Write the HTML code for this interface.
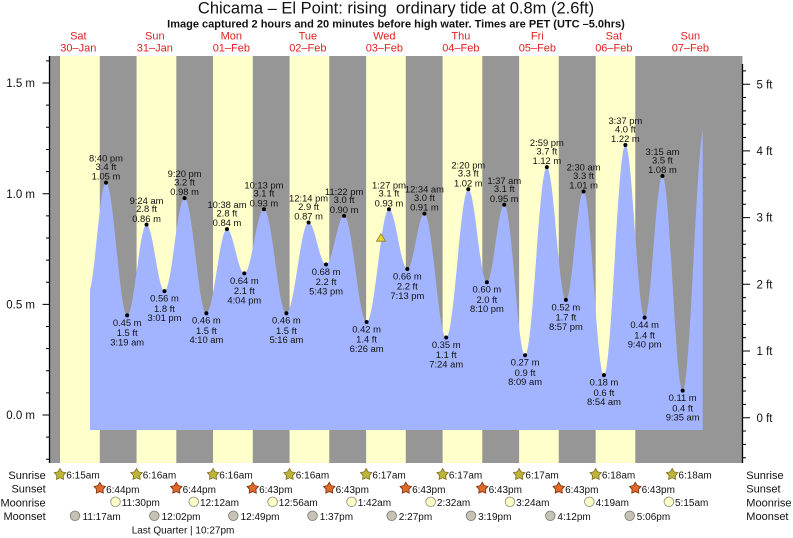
<!DOCTYPE html>
<html><head><meta charset="utf-8"><style>
html,body{margin:0;padding:0;background:#fff;}
svg{display:block;}
text{font-family:"Liberation Sans",Arial,sans-serif;}
.t{font-size:9.4px;fill:#111;text-anchor:middle;}
.b{font-size:10px;fill:#111;}
.r{font-size:11px;fill:#111;}
.d{font-size:11px;fill:#e02020;text-anchor:middle;}
.ax{font-size:11.5px;fill:#111;}
</style></head><body>
<svg width="793" height="538" viewBox="0 0 793 538" xmlns="http://www.w3.org/2000/svg">
<defs>
<clipPath id="cp"><rect x="90" y="0" width="612.7" height="538"/></clipPath>
</defs>
<text x="396" y="13.5" text-anchor="middle" style="font-size:16.5px;fill:#111;white-space:pre">Chicama – El Point: rising  ordinary tide at 0.8m (2.6ft)</text>
<text x="396" y="27.3" text-anchor="middle" style="font-size:11px;font-weight:bold;fill:#111">Image captured 2 hours and 20 minutes before high water. Times are PET (UTC –5.0hrs)</text>

<g class="dd">
<text class="d" x="78.35" y="39.5">Sat</text><text class="d" x="78.35" y="51.7">30–Jan</text>
<text class="d" x="154.85" y="39.5">Sun</text><text class="d" x="154.85" y="51.7">31–Jan</text>
<text class="d" x="231.35" y="39.5">Mon</text><text class="d" x="231.35" y="51.7">01–Feb</text>
<text class="d" x="307.85" y="39.5">Tue</text><text class="d" x="307.85" y="51.7">02–Feb</text>
<text class="d" x="384.35" y="39.5">Wed</text><text class="d" x="384.35" y="51.7">03–Feb</text>
<text class="d" x="460.85" y="39.5">Thu</text><text class="d" x="460.85" y="51.7">04–Feb</text>
<text class="d" x="537.35" y="39.5">Fri</text><text class="d" x="537.35" y="51.7">05–Feb</text>
<text class="d" x="613.85" y="39.5">Sat</text><text class="d" x="613.85" y="51.7">06–Feb</text>
<text class="d" x="690.35" y="39.5">Sun</text><text class="d" x="690.35" y="51.7">07–Feb</text>
</g>

<rect x="50" y="56" width="692.5" height="407" fill="#969696"/>
<g fill="#ffffcc">
<rect x="60.02" y="56" width="39.79" height="407"/>
<rect x="136.57" y="56" width="39.74" height="407"/>
<rect x="213.07" y="56" width="39.69" height="407"/>
<rect x="289.57" y="56" width="39.69" height="407"/>
<rect x="366.13" y="56" width="39.63" height="407"/>
<rect x="442.63" y="56" width="39.63" height="407"/>
<rect x="519.13" y="56" width="39.63" height="407"/>
<rect x="595.68" y="56" width="39.58" height="407"/>
</g>

<path clip-path="url(#cp)" fill="#a2b4ff" d="M87.91,293.3 C94.49,293.3 99.40,182.63 105.98,182.63 C113.69,182.63 119.46,315.41 127.17,315.41 C134.23,315.41 139.50,224.68 146.56,224.68 C153.08,224.68 157.95,291.07 164.47,291.07 C171.80,291.07 177.27,198.13 184.60,198.13 C192.53,198.13 198.45,313.20 206.38,313.20 C213.88,313.20 219.49,229.11 226.99,229.11 C233.29,229.11 238.01,273.37 244.31,273.37 C251.45,273.37 256.78,209.19 263.92,209.19 C272.10,209.19 278.21,313.20 286.39,313.20 C294.47,313.20 300.51,222.47 308.59,222.47 C314.95,222.47 319.71,264.52 326.07,264.52 C332.63,264.52 337.52,215.83 344.08,215.83 C352.28,215.83 358.41,322.05 366.61,322.05 C374.75,322.05 380.83,209.19 388.97,209.19 C395.66,209.19 400.66,268.94 407.35,268.94 C413.56,268.94 418.20,213.62 424.41,213.62 C432.34,213.62 438.26,337.54 446.19,337.54 C454.23,337.54 460.25,189.27 468.29,189.27 C475.06,189.27 480.11,282.22 486.88,282.22 C493.20,282.22 497.93,204.76 504.25,204.76 C511.83,204.76 517.50,355.25 525.08,355.25 C533.01,355.25 538.93,167.14 546.86,167.14 C553.78,167.14 558.96,299.92 565.88,299.92 C572.32,299.92 577.13,191.49 583.57,191.49 C591.00,191.49 596.54,375.17 603.97,375.17 C611.76,375.17 617.59,145.01 625.38,145.01 C632.40,145.01 637.64,317.63 644.66,317.63 C651.14,317.63 655.98,176.0 662.46,176.0 C669.81,176.0 675.30,390.66 682.65,390.66 C690.67,390.66 696.67,125.1 704.69,125.1 L704.69,430 L87.91,430 Z"/>

<!-- axes -->
<line x1="49.5" y1="56" x2="49.5" y2="463" stroke="#000" stroke-width="1.3"/>
<path stroke="#000" stroke-width="1" fill="none" d="M46 60.92H50M42.5 83.05H50M46 105.18H50M46 127.31H50M46 149.44H50M46 171.57H50M42.5 193.7H50M46 215.83H50M46 237.96H50M46 260.09H50M46 282.22H50M42.5 304.35H50M46 326.48H50M46 348.61H50M46 370.74H50M46 392.87H50M42.5 415H50M46 437.13H50M46 459.26H50"/>
<text class="ax" x="35" y="87.2" text-anchor="end">1.5 m</text>
<text class="ax" x="35" y="197.8" text-anchor="end">1.0 m</text>
<text class="ax" x="35" y="308.4" text-anchor="end">0.5 m</text>
<text class="ax" x="35" y="419.1" text-anchor="end">0.0 m</text>

<line x1="742.5" y1="64" x2="742.5" y2="463" stroke="#000" stroke-width="1.3"/>
<path stroke="#000" stroke-width="1" fill="none" d="M742 70.86H746M742 84.2H750M742 97.54H746M742 110.88H746M742 124.22H746M742 137.56H746M742 150.9H750M742 164.24H746M742 177.58H746M742 190.92H746M742 204.26H746M742 217.6H750M742 230.94H746M742 244.28H746M742 257.62H746M742 270.96H746M742 284.3H750M742 297.64H746M742 310.98H746M742 324.32H746M742 337.66H746M742 351H750M742 364.34H746M742 377.68H746M742 391.02H746M742 404.36H746M742 417.7H750M742 431.04H746M742 444.38H746M742 457.72H746"/>
<text class="ax" x="756.5" y="88.3">5 ft</text>
<text class="ax" x="756.5" y="155">4 ft</text>
<text class="ax" x="756.5" y="221.7">3 ft</text>
<text class="ax" x="756.5" y="288.4">2 ft</text>
<text class="ax" x="756.5" y="355.1">1 ft</text>
<text class="ax" x="756.5" y="421.8">0 ft</text>

<!-- current marker -->
<polygon points="381,233.8 385.5,241.2 376.5,241.2" fill="#e8d830" stroke="#8a7a20" stroke-width="0.8"/>

<!-- dots -->
<g fill="#000">
<circle cx="105.98" cy="182.63" r="2"/><circle cx="127.17" cy="315.41" r="2"/><circle cx="146.56" cy="224.68" r="2"/><circle cx="164.47" cy="291.07" r="2"/><circle cx="184.60" cy="198.13" r="2"/><circle cx="206.38" cy="313.20" r="2"/><circle cx="226.99" cy="229.11" r="2"/><circle cx="244.31" cy="273.37" r="2"/><circle cx="263.92" cy="209.19" r="2"/><circle cx="286.39" cy="313.20" r="2"/><circle cx="308.59" cy="222.47" r="2"/><circle cx="326.07" cy="264.52" r="2"/><circle cx="344.08" cy="215.83" r="2"/><circle cx="366.61" cy="322.05" r="2"/><circle cx="388.97" cy="209.19" r="2"/><circle cx="407.35" cy="268.94" r="2"/><circle cx="424.41" cy="213.62" r="2"/><circle cx="446.19" cy="337.54" r="2"/><circle cx="468.29" cy="189.27" r="2"/><circle cx="486.88" cy="282.22" r="2"/><circle cx="504.25" cy="204.76" r="2"/><circle cx="525.08" cy="355.25" r="2"/><circle cx="546.86" cy="167.14" r="2"/><circle cx="565.88" cy="299.92" r="2"/><circle cx="583.57" cy="191.49" r="2"/><circle cx="603.97" cy="375.17" r="2"/><circle cx="625.38" cy="145.01" r="2"/><circle cx="644.66" cy="317.63" r="2"/><circle cx="662.46" cy="176.0" r="2"/><circle cx="682.65" cy="390.66" r="2"/>
</g>

<!-- tide labels -->
<g class="tl">
<text class="t" x="105.98" y="161.7">8:40 pm</text><text class="t" x="105.98" y="170">3.4 ft</text><text class="t" x="105.98" y="179.7">1.05 m</text>
<text class="t" x="127.17" y="325.8">0.45 m</text><text class="t" x="127.17" y="336.1">1.5 ft</text><text class="t" x="127.17" y="345.4">3:19 am</text>
<text class="t" x="146.56" y="203.8">9:24 am</text><text class="t" x="146.56" y="212.1">2.8 ft</text><text class="t" x="146.56" y="221.8">0.86 m</text>
<text class="t" x="164.47" y="301.5">0.56 m</text><text class="t" x="164.47" y="311.8">1.8 ft</text><text class="t" x="164.47" y="321.1">3:01 pm</text>
<text class="t" x="184.60" y="177.2">9:20 pm</text><text class="t" x="184.60" y="185.5">3.2 ft</text><text class="t" x="184.60" y="195.2">0.98 m</text>
<text class="t" x="206.38" y="323.6">0.46 m</text><text class="t" x="206.38" y="333.9">1.5 ft</text><text class="t" x="206.38" y="343.2">4:10 am</text>
<text class="t" x="226.99" y="208.2">10:38 am</text><text class="t" x="226.99" y="216.5">2.8 ft</text><text class="t" x="226.99" y="226.2">0.84 m</text>
<text class="t" x="244.31" y="283.8">0.64 m</text><text class="t" x="244.31" y="294.1">2.1 ft</text><text class="t" x="244.31" y="303.4">4:04 pm</text>
<text class="t" x="263.92" y="188.3">10:13 pm</text><text class="t" x="263.92" y="196.6">3.1 ft</text><text class="t" x="263.92" y="206.3">0.93 m</text>
<text class="t" x="286.39" y="323.6">0.46 m</text><text class="t" x="286.39" y="333.9">1.5 ft</text><text class="t" x="286.39" y="343.2">5:16 am</text>
<text class="t" x="308.59" y="201.6">12:14 pm</text><text class="t" x="308.59" y="209.9">2.9 ft</text><text class="t" x="308.59" y="219.6">0.87 m</text>
<text class="t" x="326.07" y="274.9">0.68 m</text><text class="t" x="326.07" y="285.2">2.2 ft</text><text class="t" x="326.07" y="294.5">5:43 pm</text>
<text class="t" x="344.08" y="194.9">11:22 pm</text><text class="t" x="344.08" y="203.2">3.0 ft</text><text class="t" x="344.08" y="212.9">0.90 m</text>
<text class="t" x="366.61" y="332.4">0.42 m</text><text class="t" x="366.61" y="342.7">1.4 ft</text><text class="t" x="366.61" y="352">6:26 am</text>
<text class="t" x="388.97" y="188.3">1:27 pm</text><text class="t" x="388.97" y="196.6">3.1 ft</text><text class="t" x="388.97" y="206.3">0.93 m</text>
<text class="t" x="407.35" y="279.3">0.66 m</text><text class="t" x="407.35" y="289.6">2.2 ft</text><text class="t" x="407.35" y="298.9">7:13 pm</text>
<text class="t" x="424.41" y="192.7">12:34 am</text><text class="t" x="424.41" y="201">3.0 ft</text><text class="t" x="424.41" y="210.7">0.91 m</text>
<text class="t" x="446.19" y="347.9">0.35 m</text><text class="t" x="446.19" y="358.2">1.1 ft</text><text class="t" x="446.19" y="367.5">7:24 am</text>
<text class="t" x="468.29" y="168.4">2:20 pm</text><text class="t" x="468.29" y="176.7">3.3 ft</text><text class="t" x="468.29" y="186.4">1.02 m</text>
<text class="t" x="486.88" y="292.6">0.60 m</text><text class="t" x="486.88" y="302.9">2.0 ft</text><text class="t" x="486.88" y="312.2">8:10 pm</text>
<text class="t" x="504.25" y="183.9">1:37 am</text><text class="t" x="504.25" y="192.2">3.1 ft</text><text class="t" x="504.25" y="201.9">0.95 m</text>
<text class="t" x="525.08" y="365.6">0.27 m</text><text class="t" x="525.08" y="375.9">0.9 ft</text><text class="t" x="525.08" y="385.2">8:09 am</text>
<text class="t" x="546.86" y="146.2">2:59 pm</text><text class="t" x="546.86" y="154.5">3.7 ft</text><text class="t" x="546.86" y="164.2">1.12 m</text>
<text class="t" x="565.88" y="310.3">0.52 m</text><text class="t" x="565.88" y="320.6">1.7 ft</text><text class="t" x="565.88" y="329.9">8:57 pm</text>
<text class="t" x="583.57" y="170.6">2:30 am</text><text class="t" x="583.57" y="178.9">3.3 ft</text><text class="t" x="583.57" y="188.6">1.01 m</text>
<text class="t" x="603.97" y="385.6">0.18 m</text><text class="t" x="603.97" y="395.9">0.6 ft</text><text class="t" x="603.97" y="405.2">8:54 am</text>
<text class="t" x="625.38" y="124.1">3:37 pm</text><text class="t" x="625.38" y="132.4">4.0 ft</text><text class="t" x="625.38" y="142.1">1.22 m</text>
<text class="t" x="644.66" y="328">0.44 m</text><text class="t" x="644.66" y="338.3">1.4 ft</text><text class="t" x="644.66" y="347.6">9:40 pm</text>
<text class="t" x="662.46" y="155.1">3:15 am</text><text class="t" x="662.46" y="163.4">3.5 ft</text><text class="t" x="662.46" y="173.1">1.08 m</text>
<text class="t" x="682.65" y="401">0.11 m</text><text class="t" x="682.65" y="411.3">0.4 ft</text><text class="t" x="682.65" y="420.6">9:35 am</text>
</g>

<!-- bottom rows labels -->
<text class="r" x="45.7" y="479" text-anchor="end">Sunrise</text>
<text class="r" x="45.7" y="492.7" text-anchor="end">Sunset</text>
<text class="r" x="45.7" y="506.3" text-anchor="end">Moonrise</text>
<text class="r" x="45.7" y="520" text-anchor="end">Moonset</text>
<text class="r" x="746.3" y="479">Sunrise</text>
<text class="r" x="746.3" y="492.7">Sunset</text>
<text class="r" x="746.3" y="506.3">Moonrise</text>
<text class="r" x="746.3" y="520">Moonset</text>

<!-- sunrise stars -->
<g fill="#bdb53a" stroke="#7a6a20" stroke-width="0.8">
<polygon transform="translate(60.02,474.5)" points="0,-6 1.94,-2.67 5.71,-1.85 3.14,1.02 3.53,4.85 0,3.3 -3.53,4.85 -3.14,1.02 -5.71,-1.85 -1.94,-2.67"/>
<polygon transform="translate(136.57,474.5)" points="0,-6 1.94,-2.67 5.71,-1.85 3.14,1.02 3.53,4.85 0,3.3 -3.53,4.85 -3.14,1.02 -5.71,-1.85 -1.94,-2.67"/>
<polygon transform="translate(213.07,474.5)" points="0,-6 1.94,-2.67 5.71,-1.85 3.14,1.02 3.53,4.85 0,3.3 -3.53,4.85 -3.14,1.02 -5.71,-1.85 -1.94,-2.67"/>
<polygon transform="translate(289.57,474.5)" points="0,-6 1.94,-2.67 5.71,-1.85 3.14,1.02 3.53,4.85 0,3.3 -3.53,4.85 -3.14,1.02 -5.71,-1.85 -1.94,-2.67"/>
<polygon transform="translate(366.13,474.5)" points="0,-6 1.94,-2.67 5.71,-1.85 3.14,1.02 3.53,4.85 0,3.3 -3.53,4.85 -3.14,1.02 -5.71,-1.85 -1.94,-2.67"/>
<polygon transform="translate(442.63,474.5)" points="0,-6 1.94,-2.67 5.71,-1.85 3.14,1.02 3.53,4.85 0,3.3 -3.53,4.85 -3.14,1.02 -5.71,-1.85 -1.94,-2.67"/>
<polygon transform="translate(519.13,474.5)" points="0,-6 1.94,-2.67 5.71,-1.85 3.14,1.02 3.53,4.85 0,3.3 -3.53,4.85 -3.14,1.02 -5.71,-1.85 -1.94,-2.67"/>
<polygon transform="translate(595.68,474.5)" points="0,-6 1.94,-2.67 5.71,-1.85 3.14,1.02 3.53,4.85 0,3.3 -3.53,4.85 -3.14,1.02 -5.71,-1.85 -1.94,-2.67"/>
<polygon transform="translate(672.18,474.5)" points="0,-6 1.94,-2.67 5.71,-1.85 3.14,1.02 3.53,4.85 0,3.3 -3.53,4.85 -3.14,1.02 -5.71,-1.85 -1.94,-2.67"/>
</g>
<g class="sr">
<text class="b" x="66.3" y="478.6">6:15am</text>
<text class="b" x="142.8" y="478.6">6:16am</text>
<text class="b" x="219.3" y="478.6">6:16am</text>
<text class="b" x="295.8" y="478.6">6:16am</text>
<text class="b" x="372.4" y="478.6">6:17am</text>
<text class="b" x="448.9" y="478.6">6:17am</text>
<text class="b" x="525.4" y="478.6">6:17am</text>
<text class="b" x="601.9" y="478.6">6:18am</text>
<text class="b" x="678.4" y="478.6">6:18am</text>
</g>

<!-- sunset stars -->
<g fill="#e06a2a" stroke="#7a3010" stroke-width="0.8">
<polygon transform="translate(99.81,488.3)" points="0,-6 1.94,-2.67 5.71,-1.85 3.14,1.02 3.53,4.85 0,3.3 -3.53,4.85 -3.14,1.02 -5.71,-1.85 -1.94,-2.67"/>
<polygon transform="translate(176.31,488.3)" points="0,-6 1.94,-2.67 5.71,-1.85 3.14,1.02 3.53,4.85 0,3.3 -3.53,4.85 -3.14,1.02 -5.71,-1.85 -1.94,-2.67"/>
<polygon transform="translate(252.76,488.3)" points="0,-6 1.94,-2.67 5.71,-1.85 3.14,1.02 3.53,4.85 0,3.3 -3.53,4.85 -3.14,1.02 -5.71,-1.85 -1.94,-2.67"/>
<polygon transform="translate(329.26,488.3)" points="0,-6 1.94,-2.67 5.71,-1.85 3.14,1.02 3.53,4.85 0,3.3 -3.53,4.85 -3.14,1.02 -5.71,-1.85 -1.94,-2.67"/>
<polygon transform="translate(405.76,488.3)" points="0,-6 1.94,-2.67 5.71,-1.85 3.14,1.02 3.53,4.85 0,3.3 -3.53,4.85 -3.14,1.02 -5.71,-1.85 -1.94,-2.67"/>
<polygon transform="translate(482.26,488.3)" points="0,-6 1.94,-2.67 5.71,-1.85 3.14,1.02 3.53,4.85 0,3.3 -3.53,4.85 -3.14,1.02 -5.71,-1.85 -1.94,-2.67"/>
<polygon transform="translate(558.76,488.3)" points="0,-6 1.94,-2.67 5.71,-1.85 3.14,1.02 3.53,4.85 0,3.3 -3.53,4.85 -3.14,1.02 -5.71,-1.85 -1.94,-2.67"/>
<polygon transform="translate(635.26,488.3)" points="0,-6 1.94,-2.67 5.71,-1.85 3.14,1.02 3.53,4.85 0,3.3 -3.53,4.85 -3.14,1.02 -5.71,-1.85 -1.94,-2.67"/>
</g>
<g class="ss">
<text class="b" x="106.1" y="492.9">6:44pm</text>
<text class="b" x="182.6" y="492.9">6:44pm</text>
<text class="b" x="259.1" y="492.9">6:43pm</text>
<text class="b" x="335.6" y="492.9">6:43pm</text>
<text class="b" x="412.1" y="492.9">6:43pm</text>
<text class="b" x="488.6" y="492.9">6:43pm</text>
<text class="b" x="565.1" y="492.9">6:43pm</text>
<text class="b" x="641.6" y="492.9">6:43pm</text>
</g>

<!-- moonrise -->
<g fill="#ffffc8" stroke="#8a8a7a" stroke-width="0.8">
<circle cx="115.5" cy="501.8" r="4.8"/>
<circle cx="193.74" cy="501.8" r="4.8"/>
<circle cx="272.58" cy="501.8" r="4.8"/>
<circle cx="351.52" cy="501.8" r="4.8"/>
<circle cx="430.67" cy="501.8" r="4.8"/>
<circle cx="509.94" cy="501.8" r="4.8"/>
<circle cx="589.36" cy="501.8" r="4.8"/>
<circle cx="668.83" cy="501.8" r="4.8"/>
</g>
<g>
<text class="b" x="121.7" y="506">11:30pm</text>
<text class="b" x="200" y="506">12:12am</text>
<text class="b" x="278.8" y="506">12:56am</text>
<text class="b" x="357.7" y="506">1:42am</text>
<text class="b" x="436.9" y="506">2:32am</text>
<text class="b" x="516.1" y="506">3:24am</text>
<text class="b" x="595.6" y="506">4:19am</text>
<text class="b" x="675" y="506">5:15am</text>
</g>

<!-- moonset -->
<g fill="#c6c2b6" stroke="#7a7a70" stroke-width="0.8">
<circle cx="75" cy="515.8" r="4.8"/>
<circle cx="154.3" cy="515.8" r="4.8"/>
<circle cx="233.3" cy="515.8" r="4.8"/>
<circle cx="312.5" cy="515.8" r="4.8"/>
<circle cx="391.7" cy="515.8" r="4.8"/>
<circle cx="471" cy="515.8" r="4.8"/>
<circle cx="550.3" cy="515.8" r="4.8"/>
<circle cx="629.7" cy="515.8" r="4.8"/>
</g>
<g>
<text class="b" x="82.5" y="520.2">11:17am</text>
<text class="b" x="161.6" y="520.2">12:02pm</text>
<text class="b" x="240.6" y="520.2">12:49pm</text>
<text class="b" x="319.7" y="520.2">1:37pm</text>
<text class="b" x="398.8" y="520.2">2:27pm</text>
<text class="b" x="478.1" y="520.2">3:19pm</text>
<text class="b" x="557.4" y="520.2">4:12pm</text>
<text class="b" x="636.8" y="520.2">5:06pm</text>
</g>

<text class="b" x="131.7" y="533.6">Last Quarter | 10:27pm</text>
</svg>
</body></html>
